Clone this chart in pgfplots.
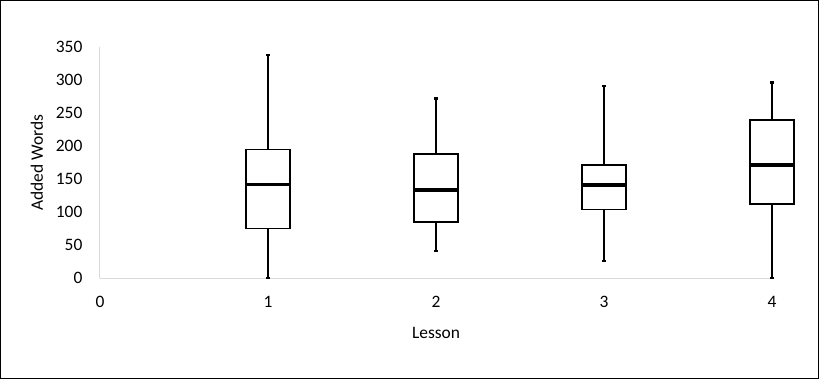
\documentclass[border=0pt]{standalone}
\usepackage{fontspec}
\setmainfont{Carlito}
\usepackage{pgfplots}
\pgfplotsset{compat=1.18}
\definecolor{axgray}{RGB}{217,217,217}
\begin{document}
\begin{tikzpicture}
\useasboundingbox (-100bp,-101bp) rectangle (719bp,278bp);
\draw[line width=1bp,black] (-99.5bp,-100.5bp) rectangle (718.5bp,277.5bp);
\begin{axis}[
  scale only axis,
  width=672bp, height=231bp,
  xmin=0, xmax=4, ymin=0, ymax=350,
  xtick={0,1,2,3,4},
  ytick={0,50,100,150,200,250,300,350},
  axis x line=bottom, axis y line=left,
  axis line style={draw=axgray, line width=1bp, -},
  tick style={draw=none},
  clip=false,
  tick label style={font=\fontsize{17.5}{21}\selectfont, /pgf/number format/assume math mode=true},
  yticklabel style={xshift=-12bp},
  xticklabel style={yshift=-13bp},
  every axis y label/.style={at={(axis description cs:0,0.5)}, xshift=-63bp, rotate=90, anchor=center, font=\fontsize{17.5}{21}\selectfont},
  every axis x label/.style={at={(axis description cs:0.5,0)}, yshift=-55bp, anchor=center, font=\fontsize{17.5}{21}\selectfont},
  xlabel={Lesson},
  ylabel={Added Words},
  wh/.style={black, line width=2bp, mark=none},
  whthin/.style={black, line width=1.2bp, mark=none},
  cap/.style={black, line width=2.5bp, mark=none},
  bx/.style={black, line width=1.6bp, fill=white, mark=none},
  md/.style={black, line width=3.5bp, mark=none},
]
% Lesson 1: min 0, Q1 75, median 142, Q3 195, max 338
\addplot[wh] coordinates {(1,0) (1,338)};
\addplot[cap] coordinates {(0.988,338) (1.012,338)};
\addplot[cap] coordinates {(0.988,0) (1.012,0)};
\addplot[bx] coordinates {(0.869,75) (1.131,75) (1.131,195) (0.869,195)} -- cycle;
\addplot[md] coordinates {(0.869,142) (1.131,142)};
% Lesson 2: min 41, Q1 85, median 133, Q3 188, max 272
\addplot[whthin] coordinates {(2,41) (2,272)};
\addplot[cap] coordinates {(1.988,272) (2.012,272)};
\addplot[cap] coordinates {(1.988,41) (2.012,41)};
\addplot[bx] coordinates {(1.869,85) (2.131,85) (2.131,188) (1.869,188)} -- cycle;
\addplot[md] coordinates {(1.869,133) (2.131,133)};
% Lesson 3: min 26, Q1 104, median 141, Q3 171, max 291
\addplot[wh] coordinates {(3,26) (3,291)};
\addplot[cap] coordinates {(2.988,291) (3.012,291)};
\addplot[cap] coordinates {(2.988,26) (3.012,26)};
\addplot[bx] coordinates {(2.869,104) (3.131,104) (3.131,171) (2.869,171)} -- cycle;
\addplot[md] coordinates {(2.869,141) (3.131,141)};
% Lesson 4: min 0, Q1 112, median 171, Q3 239, max 296
\addplot[whthin] coordinates {(4,0) (4,296)};
\addplot[cap] coordinates {(3.988,296) (4.012,296)};
\addplot[cap] coordinates {(3.988,0) (4.012,0)};
\addplot[bx] coordinates {(3.869,112) (4.131,112) (4.131,239) (3.869,239)} -- cycle;
\addplot[md] coordinates {(3.869,171) (4.131,171)};
\end{axis}
\end{tikzpicture}
\end{document}
